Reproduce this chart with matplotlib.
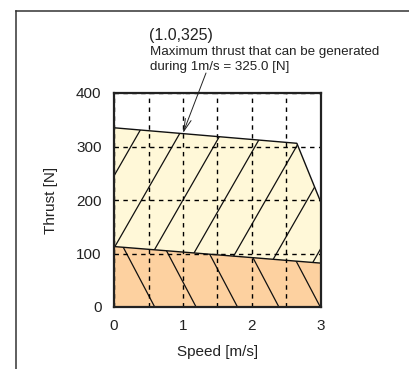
import numpy as np
import matplotlib
matplotlib.use("Agg")
import matplotlib.pyplot as plt
from matplotlib.lines import Line2D

plt.rcParams['font.family'] = ['Liberation Sans', 'DejaVu Sans']

# ---- data ----
speed_max = [0.0, 2.65, 3.0]          # m/s, maximum thrust curve
thrust_max = [335.0, 306.0, 195.0]    # N
speed_cont = [0.0, 3.0]               # m/s, continuous thrust curve
thrust_cont = [113.0, 82.0]           # N
x_ticks = [0, 1, 2, 3]
y_ticks = [0, 100, 200, 300, 400]
annot_point = (1.0, 325.0)
annot_title = "(1.0,325)"
annot_text = "Maximum thrust that can be generated\nduring 1m/s = 325.0 [N]"
xlabel = "Speed [m/s]"
ylabel = "Thrust [N]"

# ---- style ----
yellow = "#FFF8D8"
orange = "#FDD1A0"
W, H = 409, 369
fig = plt.figure(figsize=(W / 100, H / 100), dpi=100)
ax = fig.add_axes([114 / W, 62 / H, 207 / W, 214 / H])

ax.set_xlim(0, 3)
ax.set_ylim(0, 400)

# regions
ypoly = ax.fill(np.r_[speed_max, speed_cont[::-1]],
                np.r_[thrust_max, thrust_cont[::-1]],
                facecolor=yellow, edgecolor='none', zorder=1)[0]
opoly = ax.fill(np.r_[speed_cont, [speed_cont[-1], speed_cont[0]]],
                np.r_[thrust_cont, [0.0, 0.0]],
                facecolor=orange, edgecolor='none', zorder=1)[0]

# hatching (decoration)
spacing = 0.6
for k in range(-4, 7):
    x0 = 1.0 + spacing * k
    xs = np.array([x0 - 1.5, x0 + 1.5])
    ln, = ax.plot(xs, 200 + 225 * (xs - x0), color='#111111', lw=0.9, zorder=2)
    ln.set_clip_path(ypoly)
    x1 = 0.59 + spacing * k
    ln2, = ax.plot(xs + (x1 - x0), -245 * (xs - x0), color='#111111', lw=0.9, zorder=2)
    ln2.set_clip_path(opoly)

# outlines
ax.plot(speed_max, thrust_max, color='#111111', lw=1.0, zorder=4)
ax.plot(speed_cont, thrust_cont, color='#111111', lw=1.0, zorder=4)

# grid
ax.set_xticks(x_ticks)
ax.set_xticks([0.5, 1.5, 2.5], minor=True)
ax.set_yticks(y_ticks)
ax.set_axisbelow(False)
ax.grid(True, which='both', color='black', linestyle=(0, (3.2, 3.2)), linewidth=1.0)
for gl in ax.get_xgridlines() + ax.get_ygridlines() + ax.xaxis.get_minorticklines():
    gl.set_zorder(3)
ax.tick_params(which='both', length=0, labelsize=11, colors='#222222')
ax.tick_params(axis='x', pad=9)
ax.tick_params(axis='y', pad=9)
for s in ax.spines.values():
    s.set_linewidth(1.6)
    s.set_color('#222222')
    s.set_zorder(5)

ax.set_xlabel(xlabel, fontsize=11, labelpad=8, color='#222222')
ax.set_ylabel(ylabel, fontsize=11, labelpad=13, color='#222222')

# annotation
ax.annotate("", xy=annot_point, xytext=(206 / W, 1 - 73 / H), textcoords='figure fraction',
            arrowprops=dict(arrowstyle="->,head_length=0.9,head_width=0.22",
                            color='#222222', lw=0.7, shrinkA=0, shrinkB=0), zorder=6)
fig.text(149 / W, 1 - 40 / H, annot_title, fontsize=11.5, color='#222222', va='baseline')
fig.text(150 / W, 1 - 46 / H, annot_text, fontsize=9.6, color='#222222', va='top',
         linespacing=1.3)

# outer frame
fig.add_artist(Line2D([16 / W, 16 / W], [0, 1 - 10.5 / H], transform=fig.transFigure,
                      color='#333333', lw=1.1))
fig.add_artist(Line2D([16 / W, 1], [1 - 10.5 / H, 1 - 10.5 / H], transform=fig.transFigure,
                      color='#333333', lw=1.1))

fig.savefig("out.png", dpi=100)
